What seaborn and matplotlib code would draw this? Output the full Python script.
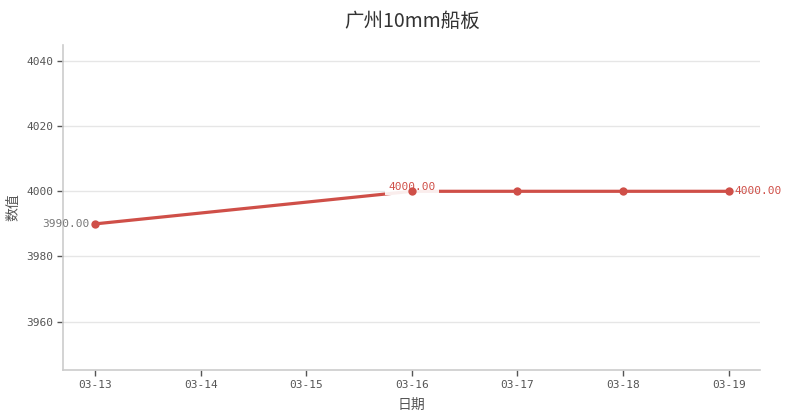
import matplotlib
matplotlib.use("Agg")
import matplotlib.pyplot as plt
import seaborn as sns
import pandas as pd
import numpy as np

dates = ["03-13", "03-14", "03-15", "03-16", "03-17", "03-18", "03-19"]
values = [3990.0, np.nan, np.nan, 4000.0, 4000.0, 4000.0, 4000.0]
title = "广州10mm船板"
xlabel = "日期"
ylabel = "数值"
yticks = [3960, 3980, 4000, 4020, 4040]

sns.set_theme(style="white")
plt.rcParams['font.family'] = ['Noto Sans CJK SC', 'DejaVu Sans']
plt.rcParams['axes.unicode_minus'] = False
mono = ['DejaVu Sans Mono', 'Noto Sans CJK SC']

color = "#cf4f48"
df = pd.DataFrame({"pos": np.arange(len(dates)), "date": dates, "value": values}).dropna()

fig, ax = plt.subplots(figsize=(7.92, 4.2), dpi=100)
fig.subplots_adjust(left=0.08, right=0.96, top=0.893, bottom=0.12)

sns.lineplot(data=df, x="pos", y="value", ax=ax, color=color, linewidth=2.3, zorder=3)
sns.scatterplot(data=df, x="pos", y="value", ax=ax, color=color, s=36, linewidth=0, zorder=6)

ax.set_xlim(-0.3, 6.3)
ax.set_ylim(3945.3, 4044.9)
ax.set_xticks(np.arange(len(dates)))
ax.set_xticklabels(dates)
ax.set_yticks(yticks)
ax.yaxis.grid(True, color="#e6e6e6", linewidth=1)
ax.xaxis.grid(False)
ax.set_axisbelow(True)

for s in ["top", "right"]:
    ax.spines[s].set_visible(False)
for s in ["left", "bottom"]:
    ax.spines[s].set_color("#cccccc")
    ax.spines[s].set_linewidth(1.2)

ax.tick_params(axis="both", which="both", length=4, width=1, color="#555555",
               labelsize=8, labelcolor="#555555", direction="out", bottom=True, left=True)
for lab in ax.get_xticklabels() + ax.get_yticklabels():
    lab.set_family(mono)

ax.set_title(title, fontsize=14, color="#333333", pad=13)
ax.set_xlabel(xlabel, fontsize=10, color="#555555", labelpad=6)
ax.set_ylabel(ylabel, fontsize=10, color="#555555", labelpad=4)

# annotations
first = df.iloc[0]
ax.annotate(f"{first['value']:.2f}", (first["pos"], first["value"]), xytext=(-4, 0),
            textcoords="offset points", ha="right", va="center", fontsize=8,
            color="#777777", family=mono)
mid = df[df["date"] == "03-16"].iloc[0]
ax.annotate(f"{mid['value']:.2f}", (mid["pos"], mid["value"]), xytext=(0, 3),
            textcoords="offset points", ha="center", va="center", fontsize=8, color=color,
            family=mono,
            bbox=dict(boxstyle="square,pad=0.3", fc="white", ec="none", alpha=0.9), zorder=4)
last = df.iloc[-1]
ax.annotate(f"{last['value']:.2f}", (last["pos"], last["value"]), xytext=(4, 0),
            textcoords="offset points", ha="left", va="center", fontsize=8, color=color,
            family=mono)

fig.savefig("out.png", dpi=100)
